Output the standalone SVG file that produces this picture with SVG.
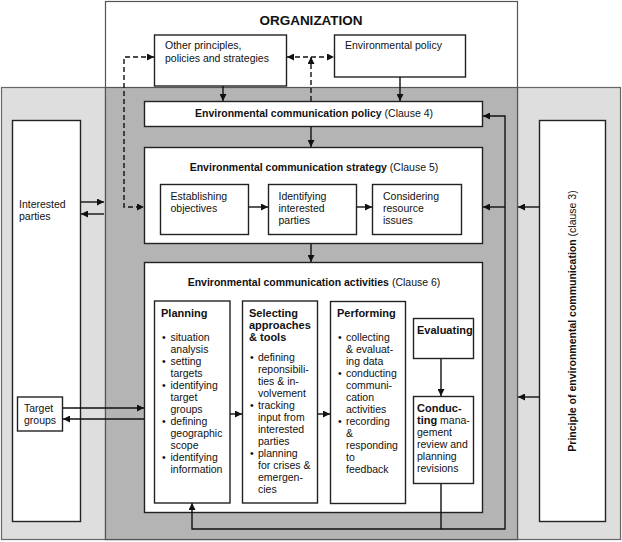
<svg xmlns="http://www.w3.org/2000/svg" width="622" height="542" viewBox="0 0 622 542">
<defs>
<style>
text{font-family:"Liberation Sans",Arial,sans-serif;font-size:10.5px;fill:#111;}
.b{font-weight:bold;}
.box{fill:#fff;stroke:#222;stroke-width:1.4;}
.c{fill:none;stroke:#111;stroke-width:1.4;}
.d{fill:none;stroke:#111;stroke-width:1.4;stroke-dasharray:5,3;}
</style>
<marker id="ah" viewBox="0 0 10 10" refX="10" refY="5" markerUnits="userSpaceOnUse" markerWidth="9" markerHeight="7" orient="auto-start-reverse"><path d="M0,0 L10,5 L0,10 z" fill="#111"/></marker>
</defs>
<g id="background">
<rect x="1.5" y="87.5" width="619" height="452" fill="#dedede" stroke="#666" stroke-width="1.2"/>
<rect x="105.5" y="1.5" width="412" height="538" fill="#fff" stroke="#555" stroke-width="1.2"/>
<rect x="105.5" y="87.5" width="412" height="452" fill="#b4b4b4" stroke="#555" stroke-width="1.2"/>
<text x="311" y="25" text-anchor="middle" class="b" style="font-size:13.5px">ORGANIZATION</text>
</g>
<g id="other-principles">
<rect class="box" x="154.5" y="35" width="132" height="51"/>
<text x="165" y="49">Other principles,</text>
<text x="165" y="62">policies and strategies</text>
</g>
<g id="environmental-policy">
<rect class="box" x="334.5" y="35" width="131" height="42"/>
<text x="345" y="49">Environmental policy</text>
</g>
<g id="communication-policy">
<rect class="box" x="144.5" y="101.5" width="338" height="25"/>
<text x="314" y="117" text-anchor="middle"><tspan class="b">Environmental communication policy</tspan> (Clause 4)</text>
</g>
<g id="communication-strategy">
<rect class="box" x="144.5" y="147.5" width="338" height="96"/>
<text x="314" y="171" text-anchor="middle"><tspan class="b">Environmental communication strategy</tspan> (Clause 5)</text>
</g>
<g id="establishing-objectives">
<rect class="box" x="160.5" y="184.5" width="88" height="50"/>
<text x="170.5" y="200">Establishing</text>
<text x="170.5" y="212">objectives</text>
</g>
<g id="identifying-parties">
<rect class="box" x="268.5" y="184.5" width="88" height="50"/>
<text x="278.5" y="200">Identifying</text>
<text x="278.5" y="212">interested</text>
<text x="278.5" y="224">parties</text>
</g>
<g id="considering-resources">
<rect class="box" x="372.5" y="184.5" width="89" height="50"/>
<text x="383" y="200">Considering</text>
<text x="383" y="212">resource</text>
<text x="383" y="224">issues</text>
</g>
<g id="communication-activities">
<rect class="box" x="144.5" y="262.5" width="338" height="250"/>
<text x="314" y="286" text-anchor="middle"><tspan class="b">Environmental communication activities</tspan> (Clause 6)</text>
</g>
<g id="planning">
<rect class="box" x="154.5" y="301" width="75.5" height="202"/>
<text x="161" y="317" class="b" style="font-size:11px">Planning</text>
<text x="162" y="341">•</text><text x="170.5" y="341">situation</text>
<text x="170.5" y="353">analysis</text>
<text x="162" y="365">•</text><text x="170.5" y="365">setting</text>
<text x="170.5" y="377">targets</text>
<text x="162" y="389">•</text><text x="170.5" y="389">identifying</text>
<text x="170.5" y="401">target</text>
<text x="170.5" y="413">groups</text>
<text x="162" y="425">•</text><text x="170.5" y="425">defining</text>
<text x="170.5" y="437">geographic</text>
<text x="170.5" y="449">scope</text>
<text x="162" y="461">•</text><text x="170.5" y="461">identifying</text>
<text x="170.5" y="473">information</text>
</g>
<g id="selecting">
<rect class="box" x="242.5" y="301" width="75" height="202"/>
<text x="249" y="317" class="b" style="font-size:11px">Selecting</text>
<text x="249" y="329" class="b" style="font-size:11px">approaches</text>
<text x="249" y="341" class="b" style="font-size:11px">&amp; tools</text>
<text x="250" y="361">•</text><text x="258" y="361">defining</text>
<text x="258" y="373">reponsibili-</text>
<text x="258" y="385">ties &amp; in-</text>
<text x="258" y="397">volvement</text>
<text x="250" y="409">•</text><text x="258" y="409">tracking</text>
<text x="258" y="421">input from</text>
<text x="258" y="433">interested</text>
<text x="258" y="445">parties</text>
<text x="250" y="457">•</text><text x="258" y="457">planning</text>
<text x="258" y="469">for crises &amp;</text>
<text x="258" y="481">emergen-</text>
<text x="258" y="493">cies</text>
</g>
<g id="performing">
<rect class="box" x="330.5" y="301.5" width="75" height="202"/>
<text x="337" y="317" class="b" style="font-size:11px">Performing</text>
<text x="338" y="341">•</text><text x="346" y="341">collecting</text>
<text x="346" y="353">&amp; evaluat-</text>
<text x="346" y="365">ing data</text>
<text x="338" y="377">•</text><text x="346" y="377">conducting</text>
<text x="346" y="389">communi-</text>
<text x="346" y="401">cation</text>
<text x="346" y="413">activities</text>
<text x="338" y="425">•</text><text x="346" y="425">recording</text>
<text x="346" y="437">&amp;</text>
<text x="346" y="449">responding</text>
<text x="346" y="461">to</text>
<text x="346" y="473">feedback</text>
</g>
<g id="evaluating">
<rect class="box" x="413.5" y="318.5" width="60" height="40"/>
<text x="417" y="334" class="b" style="font-size:11px">Evaluating</text>
</g>
<g id="conducting">
<rect class="box" x="413.5" y="396.5" width="60" height="87"/>
<text x="417" y="412" class="b" style="font-size:11px">Conduc-</text>
<text x="417" y="424"><tspan class="b" style="font-size:11px">ting</tspan> mana-</text>
<text x="417" y="436">gement</text>
<text x="417" y="448">review and</text>
<text x="417" y="460">planning</text>
<text x="417" y="472">revisions</text>
</g>
<g id="interested-parties">
<rect class="box" x="12.5" y="120.5" width="68" height="401"/>
<text x="19" y="208">Interested</text>
<text x="19" y="220">parties</text>
</g>
<g id="target-groups">
<rect class="box" x="17.5" y="397" width="45" height="34"/>
<text x="24" y="412">Target</text>
<text x="24" y="424">groups</text>
</g>
<g id="principle">
<rect class="box" x="539.5" y="120.5" width="66" height="401"/>
<text transform="translate(576,321) rotate(-90)" text-anchor="middle"><tspan class="b">Principle of environmental communication</tspan> (clause 3)</text>
</g>
<g id="connectors">
<path class="d" d="M154,57 H124 V207 H144" marker-start="url(#ah)" marker-end="url(#ah)"/>
<path class="d" d="M287,57 H334" marker-start="url(#ah)" marker-end="url(#ah)"/>
<path class="d" d="M311,101 V57" marker-end="url(#ah)"/>
<path class="c" d="M223,86 V101" marker-end="url(#ah)"/>
<path class="c" d="M400,77 V101" marker-end="url(#ah)"/>
<path class="c" d="M311,127 V147" marker-end="url(#ah)"/>
<path class="c" d="M311,244 V262" marker-end="url(#ah)"/>
<path class="c" d="M249,207 H268" marker-end="url(#ah)"/>
<path class="c" d="M357,207 H372" marker-end="url(#ah)"/>
<path class="c" d="M441,484 V529 H192 V503" marker-end="url(#ah)"/>
<path class="c" d="M441,529 H505 V116 H483" marker-end="url(#ah)"/>
<path class="c" d="M505,207 H483" marker-end="url(#ah)"/>
<path class="c" d="M539,207 H518" marker-end="url(#ah)"/>
<path class="c" d="M539,397 H518" marker-end="url(#ah)"/>
<path class="c" d="M81,202 H104" marker-end="url(#ah)"/>
<path class="c" d="M104,214 H81" marker-end="url(#ah)"/>
<path class="c" d="M63,408 H144" marker-end="url(#ah)"/>
<path class="c" d="M144,419 H63" marker-end="url(#ah)"/>
<path class="c" d="M230,414 H242" marker-end="url(#ah)"/>
<path class="c" d="M318,414 H330" marker-end="url(#ah)"/>
<path class="c" d="M441,359 V396" marker-end="url(#ah)"/>
</g>
</svg>
